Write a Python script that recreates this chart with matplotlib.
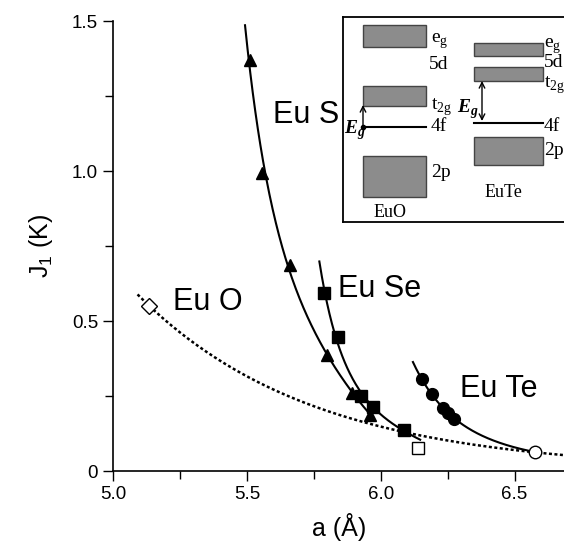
import matplotlib
matplotlib.use('Agg')
import matplotlib.pyplot as plt
import numpy as np

plt.rcParams['font.family'] = ['Liberation Sans', 'DejaVu Sans']

# Measured exchange constants J1 (K) vs lattice constant a (Angstrom)
eus_a = [5.511, 5.556, 5.660, 5.799, 5.892, 5.960]
eus_j = [1.37, 0.993, 0.687, 0.387, 0.26, 0.187]
euse_a = [5.788, 5.840, 5.926, 5.971, 6.087]
euse_j = [0.593, 0.447, 0.25, 0.213, 0.137]
eute_a = [6.154, 6.192, 6.233, 6.251, 6.274]
eute_j = [0.307, 0.257, 0.21, 0.193, 0.173]
# open symbols
euo_open = (5.133, 0.55)
euse_open = (6.139, 0.077)
eute_open = (6.577, 0.063)

# points (used for the fitted lines)
eus_curve_a = [5.492, 5.511, 5.556, 5.660, 5.799, 5.892, 5.970]
eus_curve_j = [1.49, 1.37, 0.993, 0.687, 0.387, 0.26, 0.18]
euse_curve_a = [5.770, 5.788, 5.840, 5.926, 5.971, 6.087, 6.147]
euse_curve_j = [0.697, 0.593, 0.447, 0.25, 0.213, 0.137, 0.103]
eute_curve_a = [6.120, 6.154, 6.192, 6.233, 6.274, 6.40, 6.577]
eute_curve_j = [0.36, 0.307, 0.257, 0.21, 0.173, 0.11, 0.063]
euo_curve_a = [5.09, 5.133, 5.698, 6.087, 6.147, 6.577, 6.685]
euo_curve_j = [0.587, 0.55, 0.237, 0.137, 0.11, 0.063, 0.053]

fig = plt.figure(figsize=(5.64, 5.5), dpi=100)
ax = fig.add_axes([0.2012, 0.1436, 0.7988, 0.8182])


def fit_line(xs, ys, deg=3):
    # smooth trend line in log space through the read points
    c = np.polyfit(xs, np.log(ys), deg)
    xx = np.linspace(min(xs), max(xs), 200)
    return xx, np.exp(np.polyval(c, xx))


for xs, ys in [(eus_curve_a, eus_curve_j), (euse_curve_a, euse_curve_j),
               (eute_curve_a, eute_curve_j)]:
    xx, yy = fit_line(xs, ys)
    ax.plot(xx, yy, color='black', lw=1.5, zorder=2)

xx, yy = fit_line(euo_curve_a, euo_curve_j, 2)
ax.plot(xx, yy, color='black', lw=1.8, linestyle=(0, (1.2, 1.0)), zorder=2)

ax.plot(eus_a, eus_j, '^', color='black', ms=9, zorder=3)
ax.plot(euse_a, euse_j, 's', color='black', ms=8, zorder=3)
ax.plot(eute_a, eute_j, 'o', color='black', ms=8.5, zorder=3)
ax.plot(*euo_open, 'D', mfc='white', mec='black', mew=1, ms=8, zorder=4)
ax.plot(*euse_open, 's', mfc='white', mec='black', mew=1, ms=8, zorder=4)
ax.plot(*eute_open, 'o', mfc='white', mec='black', mew=1, ms=9, zorder=4)

ax.text(5.597, 1.16, 'Eu S', fontsize=22, ha='left', va='baseline')
ax.text(5.223, 0.537, 'Eu O', fontsize=22, ha='left', va='baseline')
ax.text(5.840, 0.58, 'Eu Se', fontsize=22, ha='left', va='baseline')
ax.text(6.296, 0.247, 'Eu Te', fontsize=22, ha='left', va='baseline')

ax.set_xlim(5.0, 6.685)
ax.set_ylim(0, 1.5)
ax.spines['top'].set_visible(False)
ax.spines['right'].set_visible(False)
for s in ['left', 'bottom']:
    ax.spines[s].set_linewidth(1.2)
ax.set_xticks([5.0, 5.5, 6.0, 6.5])
ax.set_xticks([5.25, 5.75, 6.25], minor=True)
ax.set_yticks([0, 0.5, 1.0, 1.5])
ax.set_yticklabels(['0', '0.5', '1.0', '1.5'])
ax.set_yticks([0.25, 0.75, 1.25], minor=True)
ax.tick_params(which='major', direction='out', length=7, width=1, labelsize=13.5, pad=4)
ax.tick_params(which='minor', direction='out', length=6, width=1)
ax.set_xlabel('a (Å)', fontsize=18)
ax.xaxis.set_label_coords(0.5, -0.093)
ax.set_ylabel('J$_\\mathregular{1}$ (K)', fontsize=18, labelpad=12)

# ---- inset: level scheme (units: pixels inside inset box) ----
ins = fig.add_axes([343 / 564, 1 - 222 / 550, 223 / 564, 205 / 550])
ins.set_xlim(0, 223)
ins.set_ylim(205, 0)
ins.set_xticks([])
ins.set_yticks([])
ins.spines['right'].set_visible(False)
for s in ['left', 'top', 'bottom']:
    ins.spines[s].set_linewidth(1.3)

band_names = ['e$_\\mathregular{g}$', 't$_\\mathregular{2g}$', '2p']
euo_x = (20, 83)
euo_bands = [(8, 30), (69, 89), (139, 180)]
euo_4f = 110
eute_x = (131, 200)
eute_bands = [(26, 39), (50, 64), (120, 148)]
eute_4f = 106
gray = '#8c8c8c'
serif = ['Liberation Serif', 'DejaVu Serif']

for (x0, x1), bands, f4 in [(euo_x, euo_bands, euo_4f), (eute_x, eute_bands, eute_4f)]:
    for top, bot in bands:
        ins.add_patch(plt.Rectangle((x0, top), x1 - x0, bot - top, facecolor=gray,
                                    edgecolor='#444444', lw=1))
    ins.plot([x0, x1], [f4, f4], color='black', lw=1.5)

fs = 14
# EuO labels
ins.text(88, 24, band_names[0], family=serif, fontsize=fs, va='center')
ins.text(86, 48, '5d', family=serif, fontsize=fs, va='center')
ins.text(88, 90, band_names[1], family=serif, fontsize=fs, va='center')
ins.text(88, 110, '4f', family=serif, fontsize=fs, va='center')
ins.text(88, 156, '2p', family=serif, fontsize=fs, va='center')
ins.text(47, 196, 'EuO', family=serif, fontsize=13, ha='center', va='center')
ins.annotate('', xy=(20, 88), xytext=(20, 110),
             arrowprops=dict(arrowstyle='->', color='black', lw=1, shrinkA=0, shrinkB=0))
ins.plot(20, 110, 'o', color='black', ms=3)
ins.text(1, 113, 'E$_\\mathregular{g}$', family=serif, fontsize=fs, fontweight='bold',
         fontstyle='italic', va='center')
# EuTe labels
ins.text(201, 29, band_names[0], family=serif, fontsize=fs, va='center')
ins.text(201, 46, '5d', family=serif, fontsize=fs, va='center')
ins.text(201, 68, band_names[1], family=serif, fontsize=fs, va='center')
ins.text(201, 110, '4f', family=serif, fontsize=fs, va='center')
ins.text(201, 134, '2p', family=serif, fontsize=fs, va='center')
ins.text(160, 176, 'EuTe', family=serif, fontsize=13, ha='center', va='center')
ins.annotate('', xy=(139, 64), xytext=(139, 104),
             arrowprops=dict(arrowstyle='<->', color='black', lw=1, shrinkA=0, shrinkB=0))
ins.text(114, 92, 'E$_\\mathregular{g}$', family=serif, fontsize=fs, fontweight='bold',
         fontstyle='italic', va='center')

fig.savefig('out.png', dpi=100)
